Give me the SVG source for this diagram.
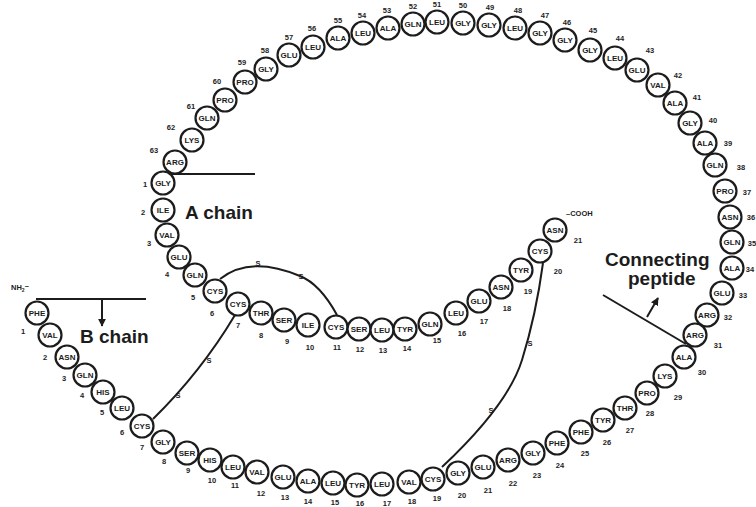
<svg xmlns="http://www.w3.org/2000/svg" width="756" height="507" viewBox="0 0 756 507">
<style>
.r circle{fill:#fff;stroke:#1c1c1c;stroke-width:2.2}
.r text{font-family:"Liberation Sans",Arial,sans-serif;font-weight:bold;fill:#1c1c1c;text-anchor:middle}
.r .aa{font-size:8px}
.r .n{font-size:7.5px}
.ln{fill:none;stroke:#1c1c1c;stroke-width:2}
.big{font-family:"Liberation Sans",Arial,sans-serif;font-weight:bold;font-size:19px;fill:#1c1c1c}
.s{font-family:"Liberation Sans",Arial,sans-serif;font-weight:bold;font-size:7.5px;fill:#1c1c1c;text-anchor:middle}
.sm{font-family:"Liberation Sans",Arial,sans-serif;font-weight:bold;font-size:7.5px;fill:#1c1c1c}
</style>
<defs>
<marker id="ah" viewBox="0 0 10 10" refX="9" refY="5" markerWidth="4" markerHeight="4" orient="auto"><path d="M0,0 L10,5 L0,10 z" fill="#1c1c1c"/></marker>
</defs>
<rect width="756" height="507" fill="#fff"/>
<g id="connectors">
<path class="ln" d="M220,279 Q250,255 300,276 Q320,284 337,315"/>
<path class="ln" d="M235,315 Q201,372 153,419"/>
<path class="ln" d="M543,263 Q536,315 522,360 T442,467"/>
<text class="s" x="258" y="265.5">S</text>
<text class="s" x="301" y="279">S</text>
<text class="s" x="209" y="362.5">S</text>
<text class="s" x="178" y="397.5">S</text>
<text class="s" x="530" y="345.5">S</text>
<text class="s" x="491" y="412.5">S</text>
<line class="ln" x1="172" y1="174" x2="255" y2="174"/>
<line class="ln" x1="36" y1="299" x2="146" y2="299"/>
<line class="ln" x1="102" y1="300" x2="102" y2="326" marker-end="url(#ah)"/>
<line class="ln" x1="603" y1="295" x2="686" y2="344"/>
<line class="ln" x1="647" y1="317" x2="658" y2="298" marker-end="url(#ah)"/>
</g>
<g id="labels">
<text class="big" x="185" y="219">A chain</text>
<text class="big" x="80" y="343">B chain</text>
<text class="big" x="605" y="266">Connecting</text>
<text class="big" x="628" y="285">peptide</text>
<text class="sm" x="11" y="290">NH<tspan font-size="5" dy="2">2</tspan><tspan dy="-4">–</tspan></text>
<text class="sm" x="566" y="216">–COOH</text>
</g>
<g id="a1" class="r"><circle cx="163" cy="183" r="11.5"/><text class="aa" x="163" y="185.9">GLY</text><text class="n" x="145" y="186.5">1</text></g>
<g id="a2" class="r"><circle cx="163" cy="210" r="11.5"/><text class="aa" x="163" y="212.9">ILE</text><text class="n" x="143" y="214.5">2</text></g>
<g id="a3" class="r"><circle cx="167" cy="235" r="11.5"/><text class="aa" x="167" y="237.9">VAL</text><text class="n" x="149" y="245.5">3</text></g>
<g id="a4" class="r"><circle cx="179" cy="257" r="11.5"/><text class="aa" x="179" y="259.9">GLU</text><text class="n" x="167" y="276.5">4</text></g>
<g id="a5" class="r"><circle cx="195" cy="275" r="11.5"/><text class="aa" x="195" y="277.9">GLN</text><text class="n" x="193" y="299.5">5</text></g>
<g id="a6" class="r"><circle cx="215" cy="291" r="11.5"/><text class="aa" x="215" y="293.9">CYS</text><text class="n" x="212" y="315.5">6</text></g>
<g id="a7" class="r"><circle cx="238" cy="304" r="11.5"/><text class="aa" x="238" y="306.9">CYS</text><text class="n" x="238" y="327.5">7</text></g>
<g id="a8" class="r"><circle cx="261" cy="313" r="11.5"/><text class="aa" x="261" y="315.9">THR</text><text class="n" x="261" y="337.5">8</text></g>
<g id="a9" class="r"><circle cx="284" cy="320" r="11.5"/><text class="aa" x="284" y="322.9">SER</text><text class="n" x="287" y="343.5">9</text></g>
<g id="a10" class="r"><circle cx="308" cy="325" r="11.5"/><text class="aa" x="308" y="327.9">ILE</text><text class="n" x="310" y="349.5">10</text></g>
<g id="a11" class="r"><circle cx="336" cy="327" r="11.5"/><text class="aa" x="336" y="329.9">CYS</text><text class="n" x="337" y="349.5">11</text></g>
<g id="a12" class="r"><circle cx="359" cy="329" r="11.5"/><text class="aa" x="359" y="331.9">SER</text><text class="n" x="360" y="351.5">12</text></g>
<g id="a13" class="r"><circle cx="382" cy="330" r="11.5"/><text class="aa" x="382" y="332.9">LEU</text><text class="n" x="383" y="352.5">13</text></g>
<g id="a14" class="r"><circle cx="405" cy="329" r="11.5"/><text class="aa" x="405" y="331.9">TYR</text><text class="n" x="407" y="350.5">14</text></g>
<g id="a15" class="r"><circle cx="430" cy="324" r="11.5"/><text class="aa" x="430" y="326.9">GLN</text><text class="n" x="437" y="342.5">15</text></g>
<g id="a16" class="r"><circle cx="456" cy="313" r="11.5"/><text class="aa" x="456" y="315.9">LEU</text><text class="n" x="462" y="335.5">16</text></g>
<g id="a17" class="r"><circle cx="479" cy="301" r="11.5"/><text class="aa" x="479" y="303.9">GLU</text><text class="n" x="484" y="323.5">17</text></g>
<g id="a18" class="r"><circle cx="501" cy="287" r="11.5"/><text class="aa" x="501" y="289.9">ASN</text><text class="n" x="507" y="310.5">18</text></g>
<g id="a19" class="r"><circle cx="521" cy="270" r="11.5"/><text class="aa" x="521" y="272.9">TYR</text><text class="n" x="528" y="293.5">19</text></g>
<g id="a20" class="r"><circle cx="540" cy="251" r="11.5"/><text class="aa" x="540" y="253.9">CYS</text><text class="n" x="558" y="273.5">20</text></g>
<g id="a21" class="r"><circle cx="555" cy="230" r="11.5"/><text class="aa" x="555" y="232.9">ASN</text><text class="n" x="578" y="242.5">21</text></g>
<g id="c31" class="r"><circle cx="695" cy="335" r="11.5"/><text class="aa" x="695" y="337.9">ARG</text><text class="n" x="718" y="347.5">31</text></g>
<g id="c32" class="r"><circle cx="707" cy="315" r="11.5"/><text class="aa" x="707" y="317.9">ARG</text><text class="n" x="728" y="319.5">32</text></g>
<g id="c33" class="r"><circle cx="722" cy="293" r="11.5"/><text class="aa" x="722" y="295.9">GLU</text><text class="n" x="743" y="297.5">33</text></g>
<g id="c34" class="r"><circle cx="732" cy="268" r="11.5"/><text class="aa" x="732" y="270.9">ALA</text><text class="n" x="750" y="271.5">34</text></g>
<g id="c35" class="r"><circle cx="732" cy="242" r="11.5"/><text class="aa" x="732" y="244.9">GLN</text><text class="n" x="752" y="245.5">35</text></g>
<g id="c36" class="r"><circle cx="730" cy="217" r="11.5"/><text class="aa" x="730" y="219.9">ASN</text><text class="n" x="751" y="219.5">36</text></g>
<g id="c37" class="r"><circle cx="725" cy="191" r="11.5"/><text class="aa" x="725" y="193.9">PRO</text><text class="n" x="747" y="194.5">37</text></g>
<g id="c38" class="r"><circle cx="715" cy="165" r="11.5"/><text class="aa" x="715" y="167.9">GLN</text><text class="n" x="741" y="169.5">38</text></g>
<g id="c39" class="r"><circle cx="705" cy="143" r="11.5"/><text class="aa" x="705" y="145.9">ALA</text><text class="n" x="728" y="145.5">39</text></g>
<g id="c40" class="r"><circle cx="690" cy="123" r="11.5"/><text class="aa" x="690" y="125.9">GLY</text><text class="n" x="713" y="122.5">40</text></g>
<g id="c41" class="r"><circle cx="675" cy="103" r="11.5"/><text class="aa" x="675" y="105.9">ALA</text><text class="n" x="697" y="99.5">41</text></g>
<g id="c42" class="r"><circle cx="658" cy="85" r="11.5"/><text class="aa" x="658" y="87.9">VAL</text><text class="n" x="678" y="77.5">42</text></g>
<g id="c43" class="r"><circle cx="637" cy="70" r="11.5"/><text class="aa" x="637" y="72.9">GLU</text><text class="n" x="650" y="52.5">43</text></g>
<g id="c44" class="r"><circle cx="615" cy="58" r="11.5"/><text class="aa" x="615" y="60.9">LEU</text><text class="n" x="620" y="40.5">44</text></g>
<g id="c45" class="r"><circle cx="590" cy="50" r="11.5"/><text class="aa" x="590" y="52.9">GLY</text><text class="n" x="593" y="32.5">45</text></g>
<g id="c46" class="r"><circle cx="565" cy="40" r="11.5"/><text class="aa" x="565" y="42.9">GLY</text><text class="n" x="567" y="24.5">46</text></g>
<g id="c47" class="r"><circle cx="540" cy="33" r="11.5"/><text class="aa" x="540" y="35.9">GLY</text><text class="n" x="545" y="17.5">47</text></g>
<g id="c48" class="r"><circle cx="515" cy="28" r="11.5"/><text class="aa" x="515" y="30.9">LEU</text><text class="n" x="518" y="12.5">48</text></g>
<g id="c49" class="r"><circle cx="489" cy="25" r="11.5"/><text class="aa" x="489" y="27.9">GLY</text><text class="n" x="490" y="9.5">49</text></g>
<g id="c50" class="r"><circle cx="463" cy="23" r="11.5"/><text class="aa" x="463" y="25.9">GLY</text><text class="n" x="463" y="8">50</text></g>
<g id="c51" class="r"><circle cx="437" cy="22" r="11.5"/><text class="aa" x="437" y="24.9">LEU</text><text class="n" x="437" y="7">51</text></g>
<g id="c52" class="r"><circle cx="413" cy="24" r="11.5"/><text class="aa" x="413" y="26.9">GLN</text><text class="n" x="413" y="9">52</text></g>
<g id="c53" class="r"><circle cx="388" cy="28" r="11.5"/><text class="aa" x="388" y="30.9">ALA</text><text class="n" x="387" y="13">53</text></g>
<g id="c54" class="r"><circle cx="363" cy="33" r="11.5"/><text class="aa" x="363" y="35.9">LEU</text><text class="n" x="362" y="18">54</text></g>
<g id="c55" class="r"><circle cx="338" cy="38" r="11.5"/><text class="aa" x="338" y="40.9">ALA</text><text class="n" x="338" y="22.5">55</text></g>
<g id="c56" class="r"><circle cx="313" cy="47" r="11.5"/><text class="aa" x="313" y="49.9">LEU</text><text class="n" x="312" y="30.5">56</text></g>
<g id="c57" class="r"><circle cx="289" cy="55" r="11.5"/><text class="aa" x="289" y="57.9">GLU</text><text class="n" x="289" y="40">57</text></g>
<g id="c58" class="r"><circle cx="266" cy="69" r="11.5"/><text class="aa" x="266" y="71.9">GLY</text><text class="n" x="265" y="52.5">58</text></g>
<g id="c59" class="r"><circle cx="245" cy="82" r="11.5"/><text class="aa" x="245" y="84.9">PRO</text><text class="n" x="242" y="65">59</text></g>
<g id="c60" class="r"><circle cx="225" cy="100" r="11.5"/><text class="aa" x="225" y="102.9">PRO</text><text class="n" x="217" y="84">60</text></g>
<g id="c61" class="r"><circle cx="207" cy="118" r="11.5"/><text class="aa" x="207" y="120.9">GLN</text><text class="n" x="191" y="109">61</text></g>
<g id="c62" class="r"><circle cx="192" cy="140" r="11.5"/><text class="aa" x="192" y="142.9">LYS</text><text class="n" x="171" y="130">62</text></g>
<g id="c63" class="r"><circle cx="175" cy="162" r="11.5"/><text class="aa" x="175" y="164.9">ARG</text><text class="n" x="154" y="153">63</text></g>
<g id="b1" class="r"><circle cx="37" cy="313" r="11.5"/><text class="aa" x="37" y="315.9">PHE</text><text class="n" x="23" y="333.5">1</text></g>
<g id="b2" class="r"><circle cx="50" cy="335" r="11.5"/><text class="aa" x="50" y="337.9">VAL</text><text class="n" x="45" y="359.5">2</text></g>
<g id="b3" class="r"><circle cx="67" cy="357" r="11.5"/><text class="aa" x="67" y="359.9">ASN</text><text class="n" x="64" y="380.5">3</text></g>
<g id="b4" class="r"><circle cx="85" cy="375" r="11.5"/><text class="aa" x="85" y="377.9">GLN</text><text class="n" x="82" y="397.5">4</text></g>
<g id="b5" class="r"><circle cx="103" cy="392" r="11.5"/><text class="aa" x="103" y="394.9">HIS</text><text class="n" x="102" y="414.5">5</text></g>
<g id="b6" class="r"><circle cx="122" cy="408" r="11.5"/><text class="aa" x="122" y="410.9">LEU</text><text class="n" x="122" y="434.5">6</text></g>
<g id="b7" class="r"><circle cx="142" cy="426" r="11.5"/><text class="aa" x="142" y="428.9">CYS</text><text class="n" x="142" y="449.5">7</text></g>
<g id="b8" class="r"><circle cx="163" cy="442" r="11.5"/><text class="aa" x="163" y="444.9">GLY</text><text class="n" x="164" y="463.5">8</text></g>
<g id="b9" class="r"><circle cx="187" cy="453" r="11.5"/><text class="aa" x="187" y="455.9">SER</text><text class="n" x="188" y="472.5">9</text></g>
<g id="b10" class="r"><circle cx="210" cy="460" r="11.5"/><text class="aa" x="210" y="462.9">HIS</text><text class="n" x="212" y="482.5">10</text></g>
<g id="b11" class="r"><circle cx="233" cy="467" r="11.5"/><text class="aa" x="233" y="469.9">LEU</text><text class="n" x="235" y="487.5">11</text></g>
<g id="b12" class="r"><circle cx="257" cy="472" r="11.5"/><text class="aa" x="257" y="474.9">VAL</text><text class="n" x="261" y="495.5">12</text></g>
<g id="b13" class="r"><circle cx="283" cy="477" r="11.5"/><text class="aa" x="283" y="479.9">GLU</text><text class="n" x="285" y="499.5">13</text></g>
<g id="b14" class="r"><circle cx="308" cy="481" r="11.5"/><text class="aa" x="308" y="483.9">ALA</text><text class="n" x="308" y="504">14</text></g>
<g id="b15" class="r"><circle cx="333" cy="483" r="11.5"/><text class="aa" x="333" y="485.9">LEU</text><text class="n" x="335" y="505">15</text></g>
<g id="b16" class="r"><circle cx="357" cy="485" r="11.5"/><text class="aa" x="357" y="487.9">TYR</text><text class="n" x="360" y="506">16</text></g>
<g id="b17" class="r"><circle cx="382" cy="484" r="11.5"/><text class="aa" x="382" y="486.9">LEU</text><text class="n" x="387" y="505.5">17</text></g>
<g id="b18" class="r"><circle cx="409" cy="482" r="11.5"/><text class="aa" x="409" y="484.9">VAL</text><text class="n" x="412" y="504">18</text></g>
<g id="b19" class="r"><circle cx="433" cy="479" r="11.5"/><text class="aa" x="433" y="481.9">CYS</text><text class="n" x="437" y="500.5">19</text></g>
<g id="b20" class="r"><circle cx="458" cy="473" r="11.5"/><text class="aa" x="458" y="475.9">GLY</text><text class="n" x="462" y="497.5">20</text></g>
<g id="b21" class="r"><circle cx="483" cy="467" r="11.5"/><text class="aa" x="483" y="469.9">GLU</text><text class="n" x="488" y="492.5">21</text></g>
<g id="b22" class="r"><circle cx="508" cy="460" r="11.5"/><text class="aa" x="508" y="462.9">ARG</text><text class="n" x="513" y="485.5">22</text></g>
<g id="b23" class="r"><circle cx="533" cy="453" r="11.5"/><text class="aa" x="533" y="455.9">GLY</text><text class="n" x="537" y="477.5">23</text></g>
<g id="b24" class="r"><circle cx="557" cy="443" r="11.5"/><text class="aa" x="557" y="445.9">PHE</text><text class="n" x="560" y="467.5">24</text></g>
<g id="b25" class="r"><circle cx="581" cy="432" r="11.5"/><text class="aa" x="581" y="434.9">PHE</text><text class="n" x="585" y="455.5">25</text></g>
<g id="b26" class="r"><circle cx="603" cy="420" r="11.5"/><text class="aa" x="603" y="422.9">TYR</text><text class="n" x="607" y="444.5">26</text></g>
<g id="b27" class="r"><circle cx="625" cy="408" r="11.5"/><text class="aa" x="625" y="410.9">THR</text><text class="n" x="630" y="432.5">27</text></g>
<g id="b28" class="r"><circle cx="647" cy="393" r="11.5"/><text class="aa" x="647" y="395.9">PRO</text><text class="n" x="650" y="415.5">28</text></g>
<g id="b29" class="r"><circle cx="665" cy="376" r="11.5"/><text class="aa" x="665" y="378.9">LYS</text><text class="n" x="678" y="399.5">29</text></g>
<g id="b30" class="r"><circle cx="684" cy="357" r="11.5"/><text class="aa" x="684" y="359.9">ALA</text><text class="n" x="702" y="374.5">30</text></g>
</svg>
